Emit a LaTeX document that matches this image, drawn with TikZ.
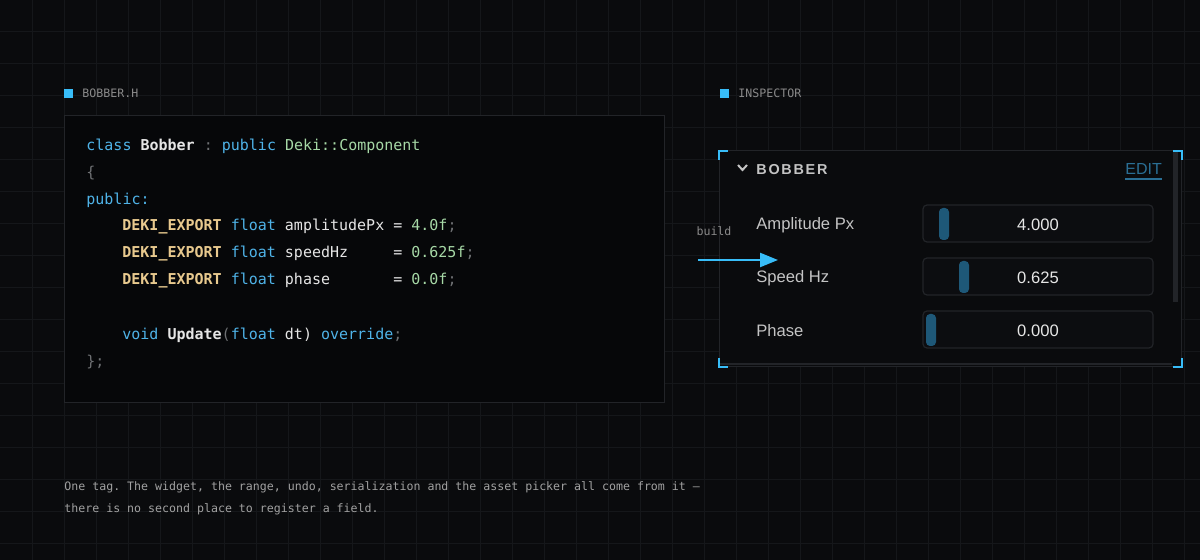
\documentclass[tikz,border=0pt]{standalone}
\usepackage{fontspec}
\setmainfont{Liberation Sans}
\setsansfont{Liberation Sans}
\setmonofont{DejaVu Sans Mono}
\usetikzlibrary{arrows.meta}
\definecolor{bg}{HTML}{0A0B0D}
\definecolor{gridc}{HTML}{15171A}
\definecolor{panel}{HTML}{060709}
\definecolor{bord}{HTML}{222428}
\definecolor{cyan}{HTML}{38BDF8}
\definecolor{kw}{HTML}{4FB3E8}
\definecolor{tan}{HTML}{E8C98E}
\definecolor{grn}{HTML}{A6D8A6}
\definecolor{punc}{HTML}{6E7073}
\definecolor{txt}{HTML}{E6E6E6}
\definecolor{dim}{HTML}{8A8A8A}
\definecolor{lbl}{HTML}{C4C4C4}
\definecolor{edit}{HTML}{2A6F95}
\definecolor{knob}{HTML}{1E5878}
\definecolor{slid}{HTML}{0C0D10}
\definecolor{insp}{HTML}{0A0B0D}
\newcommand\mych[1]{\hspace*{#1\dimexpr4.515pt\relax}}
\newcommand\myK[1]{\textcolor{kw}{#1}}
\newcommand\myT[1]{\textcolor{tan}{\bfseries #1}}
\newcommand\myG[1]{\textcolor{grn}{#1}}
\newcommand\myP[1]{\textcolor{punc}{#1}}
\newcommand\myW[1]{\textcolor{txt}{#1}}
\begin{document}
\begin{tikzpicture}[x=0.5pt,y=-0.5pt,
  code/.style={anchor=west,inner sep=0,font=\ttfamily\fontsize{7.5}{9}\selectfont,text=txt},
  small/.style={anchor=west,inner sep=0,font=\ttfamily\fontsize{5.8}{7}\selectfont,text=dim},
  rowlbl/.style={anchor=west,inner sep=0,font=\sffamily\fontsize{8.3}{10}\selectfont,text=lbl},
  val/.style={anchor=center,inner sep=0,font=\sffamily\fontsize{8.3}{10}\selectfont,text=txt},
  slider/.style={draw=bord,fill=slid,rounded corners=2pt,line width=0.6pt},
  knobs/.style={fill=knob,rounded corners=2pt},
  bracket/.style={draw=cyan,line width=1pt},
  marker/.style={fill=cyan}]
\fill[bg] (0,0) rectangle (1200,560);
\useasboundingbox (0,0) rectangle (1200,560);
\foreach \i in {32,64,...,1184} \draw[gridc,line width=0.5pt] (\i,0) -- (\i,560);
\foreach \j in {32,64,...,544} \draw[gridc,line width=0.5pt] (0,\j) -- (1200,\j);
% left header
\fill[marker] (64,89) rectangle (73,98);
\node[small] (hL) at (82,93) {BOBBER.H};
% code panel
\draw[bord,fill=panel,line width=0.5pt] (64,116) rectangle (664,403);
\node[code] (c1) at (86,146) {\myK{class} \myW{\bfseries Bobber} \myP{:} \myK{public} \myG{Deki::Component}};
\node[code] (c2) at (86,173) {\myP{\{}};
\node[code] (c3) at (86,200) {\myK{public:}};
\node[code] (c4) at (122,227) {\myT{DEKI\_EXPORT} \myK{float} amplitudePx = \myG{4.0f}\myP{;}};
\node[code] (c5) at (122,254) {\myT{DEKI\_EXPORT} \myK{float} speedHz\mych{5}= \myG{0.625f}\myP{;}};
\node[code] (c6) at (122,281) {\myT{DEKI\_EXPORT} \myK{float} phase\mych{7}= \myG{0.0f}\myP{;}};
\node[code] (c7) at (122,335) {\myK{void} \myW{\bfseries Update}\myP{(}\myK{float} dt) \myK{override}\myP{;}};
\node[code] (c8) at (86,362) {\myP{\};}};
% right header
\fill[marker] (720,89) rectangle (729,98);
\node[small] (hR) at (738,93) {INSPECTOR};
% inspector panel
\draw[bord,fill=insp,line width=0.5pt] (719,151) rectangle (1181,367);
\draw[bord,line width=0.8pt] (720,364) -- (1172,364);
\fill[bord] (1173,152) rectangle (1178,302);
\draw[bracket] (728,151) -- (719,151) -- (719,160);
\draw[bracket] (1173,151) -- (1182,151) -- (1182,160);
\draw[bracket] (719,358) -- (719,367) -- (728,367);
\draw[bracket] (1173,367) -- (1182,367) -- (1182,358);
\draw[lbl,line width=1pt] (738,165) -- (742.5,170) -- (747,165);
\node[rowlbl,font=\sffamily\bfseries\fontsize{7.2}{8}\selectfont\addfontfeature{LetterSpace=12}] (hdr) at (756,170) {BOBBER};
\node[anchor=west,inner sep=0,font=\sffamily\fontsize{8}{9}\selectfont,text=edit] (ed) at (1125,169) {EDIT};
\draw[edit,line width=0.8pt] ([yshift=-2pt]ed.south west) -- ([yshift=-2pt]ed.south east);
% rows
\node[rowlbl] (l1) at (756,225) {Amplitude Px};
\node[rowlbl] (l2) at (756,278) {Speed Hz};
\node[rowlbl] (l3) at (756,331) {Phase};
\draw[slider] (923,205) rectangle (1153,242);
\draw[slider] (923,258) rectangle (1153,295);
\draw[slider] (923,311) rectangle (1153,348);
\fill[knobs] (939,208) rectangle (949,240);
\fill[knobs] (959,261) rectangle (969,293);
\fill[knobs] (926,314) rectangle (936,346);
\node[val] (v1) at (1038,225) {4.000};
\node[val] (v2) at (1038,278) {0.625};
\node[val] (v3) at (1038,331) {0.000};
% build arrow
\coordinate (a0) at (698,260);
\coordinate (a1) at (778,260);
\draw[cyan,line width=1.2pt,-{Triangle[length=9pt,width=7pt]}] (a0) -- (a1);
\node[small,anchor=center] (bl) at (714,231) {build};
% footnote
\node[small,text=dim!80] (f1) at (64,487) {One tag. The widget, the range, undo, serialization and the asset picker all come from it —};
\node[small,text=dim!80] (f2) at (64,509) {there is no second place to register a field.};
\end{tikzpicture}
\end{document}
